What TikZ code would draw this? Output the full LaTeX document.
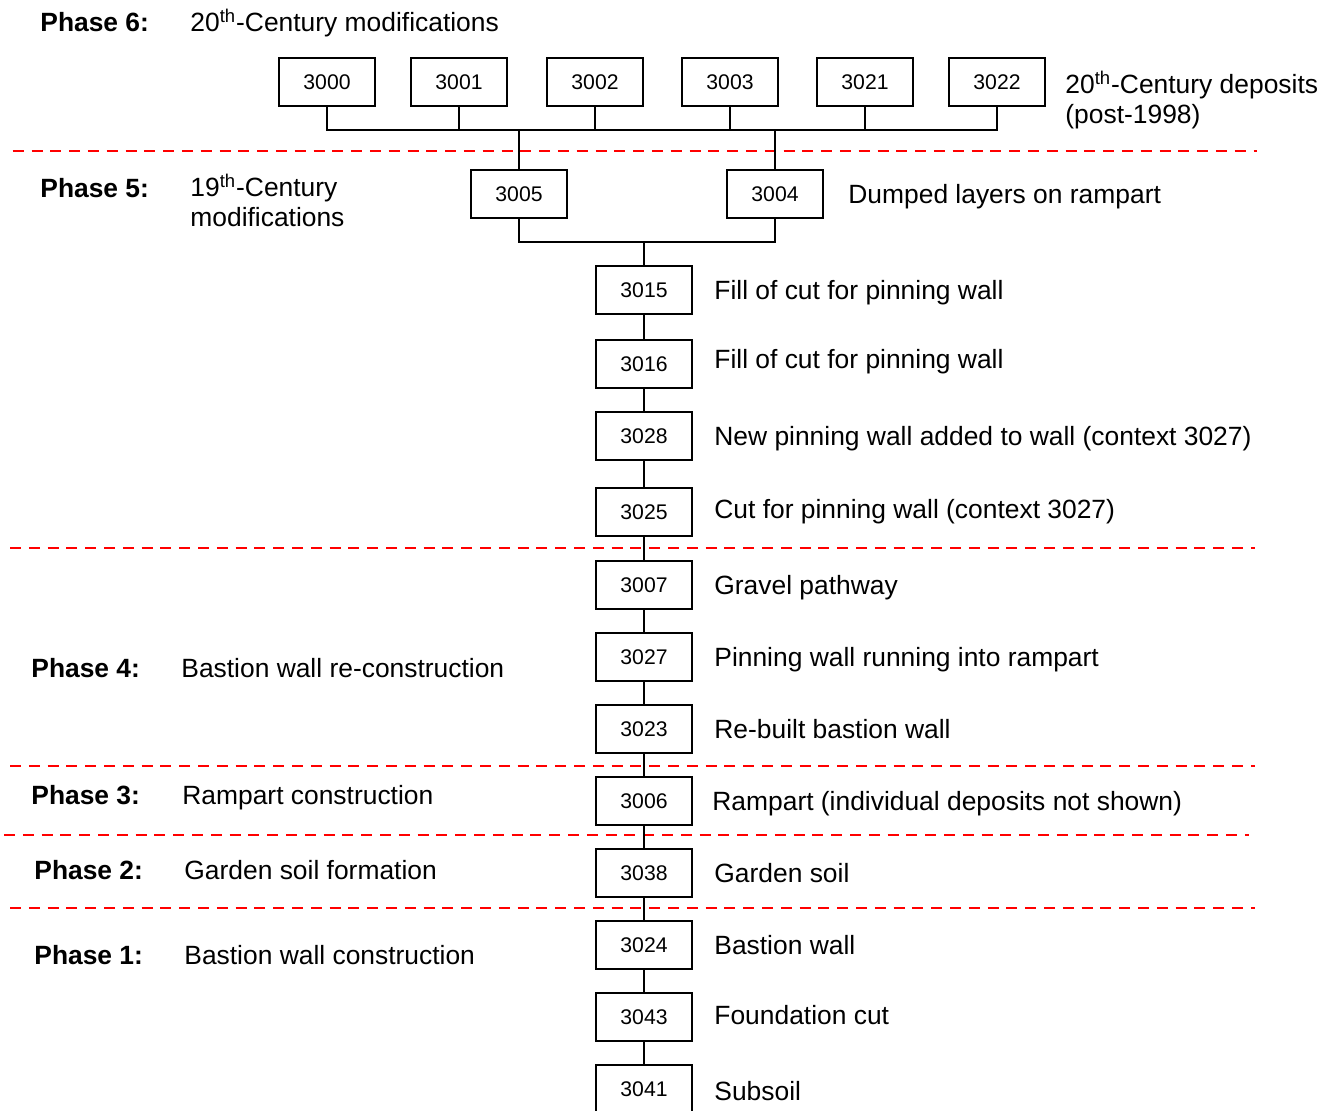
\documentclass[tikz,border=0pt]{standalone}
\usepackage{fontspec}
\setmainfont{Liberation Sans}
\usetikzlibrary{positioning}

\begin{document}
\begin{tikzpicture}[%
      x=0.5pt, y=-0.5pt,
      ctx/.style={rectangle, draw, line width=1pt, minimum width=48pt, minimum height=24pt,
        inner sep=0pt, font=\fontsize{10.6}{12}\selectfont},
      desc/.style={inner sep=0pt, text height=9.5pt, text depth=0pt, anchor=west,
        font=\fontsize{13.2}{15}\selectfont},
      desctwo/.style={inner sep=0pt, anchor=north west, align=left,
        font=\fontsize{13.2}{15}\selectfont},
      phase/.style={desc, font=\fontsize{13.2}{15}\selectfont\bfseries},
      phaseline/.style={draw=red, line width=1.4pt, dash pattern=on 5.5pt off 3.9pt},
      link/.style={line width=0.75pt},
      node distance=10.5pt
    ]
    \useasboundingbox (0,0) rectangle (1336,1110);

    % phase boundaries
    \draw [phaseline] (12.7,151) -- (1257,151);
    \draw [phaseline] (10,548) -- (1255,548);
    \draw [phaseline] (10,766) -- (1255,766);
    \draw [phaseline] (4,835) -- (1249,835);
    \draw [phaseline] (10,908) -- (1255,908);

    % phase titles
    \node [phase] (p6) at (40,22) {Phase 6:};
    \node [desc] (t6) at (190,22) {20\textsuperscript{th}-Century modifications};
    \node [phase] (p5) at (40,187.5) {Phase 5:};
    \node [desctwo] (t5) at (190,174) {19\textsuperscript{th}-Century\\modifications};
    \node [phase] (p4) at (31,668) {Phase 4:};
    \node [desc] (t4) at (181,668) {Bastion wall re-construction};
    \node [phase] (p3) at (31,795) {Phase 3:};
    \node [desc] (t3) at (182,795) {Rampart construction};
    \node [phase] (p2) at (34,870) {Phase 2:};
    \node [desc] (t2) at (184,870) {Garden soil formation};
    \node [phase] (p1) at (34,955) {Phase 1:};
    \node [desc] (t1) at (184,955) {Bastion wall construction};

    % contexts
    \node [ctx] (3000) at (327,82) {3000};
    \node [ctx] (3001) at (459,82) {3001};
    \node [ctx] (3002) at (595,82) {3002};
    \node [ctx] (3003) at (730,82) {3003};
    \node [ctx] (3021) at (865,82) {3021};
    \node [ctx] (3022) at (997,82) {3022};
    \node [ctx] (3005) at (519,194) {3005};
    \node [ctx] (3004) at (775,194) {3004};
    \node [ctx] (3015) at (644,290) {3015};
    \node [ctx] (3016) at (644,364) {3016};
    \node [ctx] (3028) at (644,436) {3028};
    \node [ctx] (3025) at (644,512) {3025};
    \node [ctx] (3007) at (644,585) {3007};
    \node [ctx] (3027) at (644,657) {3027};
    \node [ctx] (3023) at (644,729) {3023};
    \node [ctx] (3006) at (644,801) {3006};
    \node [ctx] (3038) at (644,873) {3038};
    \node [ctx] (3024) at (644,945) {3024};
    \node [ctx] (3043) at (644,1017) {3043};
    \node [ctx] (3041) at (644,1089) {3041};

    % descriptions
    \node [desctwo] (d3022) at (1065,71) {20\textsuperscript{th}-Century deposits\\(post-1998)};
    \node [desc, right=12pt of 3004] (d3004) {Dumped layers on rampart};
    \node [desc, right=of 3015] (d3015) {Fill of cut for pinning wall};
    \node [desc, right=of 3016, yshift=2.5pt] (d3016) {Fill of cut for pinning wall};
    \node [desc, right=of 3028] (d3028) {New pinning wall added to wall (context 3027)};
    \node [desc, right=of 3025, yshift=1.5pt] (d3025) {Cut for pinning wall (context 3027)};
    \node [desc, right=of 3007] (d3007) {Gravel pathway};
    \node [desc, right=of 3027] (d3027) {Pinning wall running into rampart};
    \node [desc, right=of 3023] (d3023) {Re-built bastion wall};
    \node [desc, right=9.5pt of 3006] (d3006) {Rampart (individual deposits not shown)};
    \node [desc, right=of 3038] (d3038) {Garden soil};
    \node [desc, right=of 3024] (d3024) {Bastion wall};
    \node [desc, right=of 3043, yshift=1pt] (d3043) {Foundation cut};
    \node [desc, right=of 3041, yshift=-1pt] (d3041) {Subsoil};

    % links
    \coordinate (topbus) at (0,130);
    \coordinate (midbus) at (0,242);
    \draw [link] (3000.south) |- (3022.south |- topbus) -- (3022.south);
    \foreach \n in {3001,3002,3003,3021}
      \draw [link] (\n.south) -- (\n.south |- topbus);
    \foreach \n in {3005,3004}
      \draw [link] (\n.north) -- (\n.north |- topbus);
    \draw [link] (3005.south) |- (3004.south |- midbus) -- (3004.south);
    \draw [link] (3015.north) -- (3015.north |- midbus);
    \foreach \a/\b in {3015/3016,3016/3028,3028/3025,3025/3007,3007/3027,3027/3023,
      3023/3006,3006/3038,3038/3024,3024/3043,3043/3041}
      \draw [link] (\a) -- (\b);
  \end{tikzpicture}
\end{document}
